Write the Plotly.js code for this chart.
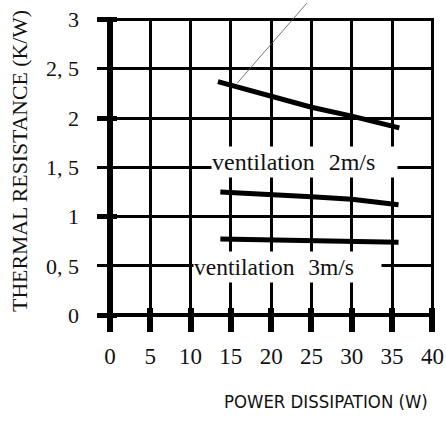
<!DOCTYPE html>
<html>
<head>
<meta charset="utf-8">
<script src="https://cdn.plot.ly/plotly-3.0.1.min.js"></script>
<style>
html,body{margin:0;padding:0;background:#fff;}
#chart{width:446px;height:421px;}
</style>
</head>
<body>
<div id="chart"></div>
<script>
// Data
const powerTop = [13.4, 20, 25, 30, 35.9];
const resistTop = [2.37, 2.22, 2.11, 2.02, 1.90];
const powerMid = [13.7, 20, 25, 30, 35.8];
const resistMid = [1.25, 1.227, 1.203, 1.177, 1.12];
const powerBot = [13.7, 20, 25, 30, 35.8];
const resistBot = [0.773, 0.763, 0.753, 0.742, 0.74];
const xTickVals = [0, 5, 10, 15, 20, 25, 30, 35, 40];
const xTickText = ['0', '5', '10', '15', '20', '25', '30', '35', '40'];
const yTickVals = [0, 0.5, 1, 1.5, 2, 2.5, 3];
const yTickText = ['0', '0, 5', '1', '1, 5', '2', '2, 5', '3'];
const yStubVals = [0, 1, 2, 3];
const label2 = 'ventilation&nbsp;&nbsp;\u200A2m/s';
const label3 = 'ventilation&nbsp;&nbsp;\u200A3m/s';
const xTitle = 'POWER DISSIPATION (W)';
const yTitle = 'THERMAL RESISTANCE (K/W)';

const serif = "'Liberation Serif', 'Times New Roman', serif";
const sansNarrow = "'Liberation Sans Narrow', 'Arial Narrow', 'DejaVu Sans Condensed', 'Liberation Sans', Arial, sans-serif";

// pick a font size so a text spans the wanted length
function fitSize(text, family, target, maxSize) {
  const ctx = document.createElement('canvas').getContext('2d');
  ctx.font = '100px ' + family;
  const w = ctx.measureText(text).width;
  return Math.min(maxSize, 100 * target / w);
}
const xTitleSize = fitSize(xTitle, sansNarrow, 204, 21);
const yTitleSize = fitSize(yTitle, serif, 303, 22);

const lineStyle = {color: '#000', width: 5};

const traces = [
  {x: powerTop, y: resistTop, mode: 'lines', line: lineStyle, hoverinfo: 'skip'},
  {x: powerMid, y: resistMid, mode: 'lines', line: lineStyle, hoverinfo: 'skip'},
  {x: powerBot, y: resistBot, mode: 'lines', line: lineStyle, hoverinfo: 'skip'},
  {x: [0], y: [0], yaxis: 'y2', mode: 'markers', marker: {opacity: 0}, hoverinfo: 'skip'}
];

const layout = {
  width: 446, height: 421,
  margin: {l: 97, r: 12, t: 18, b: 89, pad: 0},
  paper_bgcolor: '#fff', plot_bgcolor: '#fff',
  showlegend: false,
  xaxis: {
    range: [-1.6, 40.2],
    tickvals: xTickVals, ticktext: xTickText,
    ticks: 'inside', ticklen: 24, tickwidth: 6, tickcolor: '#000',
    ticklabelstandoff: 8,
    showgrid: true, gridcolor: '#000', gridwidth: 3,
    zeroline: true, zerolinecolor: '#000', zerolinewidth: 6,
    showline: false,
    tickfont: {family: serif, size: 23, color: '#111'},
    fixedrange: true
  },
  yaxis: {
    range: [-0.17, 3.015],
    tickvals: yTickVals, ticktext: yTickText,
    ticks: '',
    ticklabelstandoff: 17,
    showgrid: true, gridcolor: '#000', gridwidth: 3,
    zeroline: true, zerolinecolor: '#000', zerolinewidth: 4,
    showline: false,
    tickfont: {family: serif, size: 22, color: '#111'},
    fixedrange: true
  },
  yaxis2: {
    overlaying: 'y', side: 'left', anchor: 'x',
    range: [-0.17, 3.015],
    tickvals: yStubVals,
    ticks: 'inside', ticklen: 20, tickwidth: 5, tickcolor: '#000',
    showticklabels: false, showgrid: false, zeroline: false, showline: false,
    fixedrange: true
  },
  annotations: [
    {x: 24.16, y: 1.556, xref: 'x', yref: 'y', text: label2, showarrow: false,
     bgcolor: '#fff', width: 185, height: 30, align: 'left', valign: 'middle', borderpad: 0,
     font: {family: serif, size: 24, color: '#111'}},
    {x: 22.05, y: 0.488, xref: 'x', yref: 'y', text: label3, showarrow: false,
     bgcolor: '#fff', width: 187, height: 30, align: 'left', valign: 'middle', borderpad: 0,
     font: {family: serif, size: 23.5, color: '#111'}},
    {x: 15.8, y: 2.355, xref: 'x', yref: 'y', axref: 'x', ayref: 'y', ax: 24.8, ay: 3.2,
     text: ' ', showarrow: true, arrowhead: 0, arrowwidth: 0.8, arrowcolor: '#555', standoff: 0, startstandoff: 0},
    {x: 0.68, y: -0.22, xref: 'paper', yref: 'paper', xanchor: 'center', yanchor: 'middle',
     text: xTitle, showarrow: false, font: {family: sansNarrow, size: xTitleSize, color: '#111'}},
    {x: -0.2288, y: 0.5446, xref: 'paper', yref: 'paper', xanchor: 'center', yanchor: 'middle',
     text: yTitle, textangle: -90, showarrow: false, font: {family: serif, size: yTitleSize, color: '#111'}}
  ]
};

Plotly.newPlot('chart', traces, layout, {displayModeBar: false, staticPlot: true});
</script>
</body>
</html>
